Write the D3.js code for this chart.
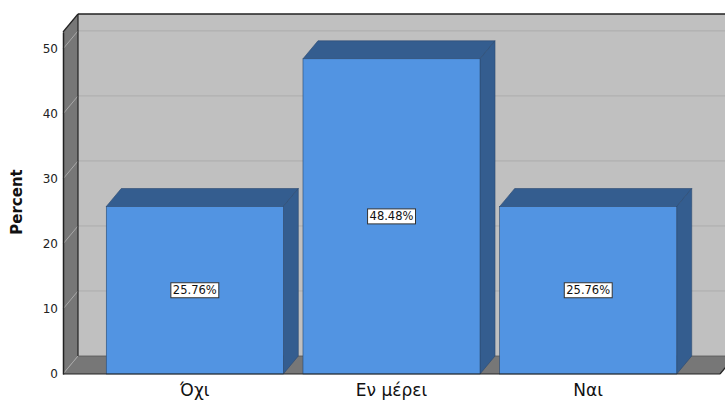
<!DOCTYPE html>
<html>
<head>
<meta charset="utf-8">
<script src="https://cdn.jsdelivr.net/npm/d3@7"></script>
<style>
  html, body { margin: 0; padding: 0; background: #ffffff; }
  svg { display: block; }
</style>
</head>
<body>
<div id="chart"></div>
<script>
// Response categories and their percentages
const categories = ["Όχι", "Εν μέρει", "Ναι"];
const percents = [25.76, 48.48, 25.76];
const yTicks = [0, 10, 20, 30, 40, 50];
const yTitle = "Percent";

const W = 725, H = 401;
// depth offset of the 3D frame
const DX = 15, DY = -18;

const svg = d3.select("#chart").append("svg")
  .attr("width", W).attr("height", H);

const x = d3.scaleBand()
  .domain(categories)
  .range([63, 720])
  .paddingInner(0.1)
  .paddingOuter(0.22);

const y = d3.scaleLinear()
  .domain([0, 52.6])
  .range([374, 32]);

const y0 = y(0), yTop = y.range()[1];
const x0 = x.range()[0], x1 = x.range()[1];

const wallLight = "#c0c0c0", wallDark = "#777777", edge = "#222222";

// back wall
svg.append("rect")
  .attr("x", x0 + DX).attr("y", yTop + DY)
  .attr("width", W - (x0 + DX) + 20).attr("height", y0 - yTop)
  .attr("fill", wallLight);

// left wall
svg.append("path")
  .attr("d", `M${x0},${y0} L${x0},${yTop} L${x0 + DX},${yTop + DY} L${x0 + DX},${y0 + DY} Z`)
  .attr("fill", wallDark);

// floor
svg.append("path")
  .attr("d", `M${x0},${y0} L${x0 + DX},${y0 + DY} L${x1 + DX},${y0 + DY} L${x1},${y0} Z`)
  .attr("fill", wallDark);

// gridlines across back wall and left wall
const grid = svg.append("g");
yTicks.forEach(t => {
  const yy = y(t);
  if (t > 0) {
    grid.append("line")
      .attr("x1", x0 + DX).attr("x2", W + 20)
      .attr("y1", yy + DY).attr("y2", yy + DY)
      .attr("stroke", "#acacac").attr("stroke-width", 1);
  }
  grid.append("line")
    .attr("x1", x0).attr("y1", yy)
    .attr("x2", x0 + DX).attr("y2", yy + DY)
    .attr("stroke", "#a8a8a8").attr("stroke-width", 1);
});

// frame edges
svg.append("line")
  .attr("x1", x0 + DX).attr("x2", W + 20)
  .attr("y1", yTop + DY).attr("y2", yTop + DY)
  .attr("stroke", edge).attr("stroke-width", 1.5);
svg.append("line")
  .attr("x1", x0 + DX).attr("x2", x0 + DX)
  .attr("y1", yTop + DY).attr("y2", y0 + DY)
  .attr("stroke", edge).attr("stroke-width", 1.2);
svg.append("line")
  .attr("x1", x0).attr("y1", yTop)
  .attr("x2", x0 + DX).attr("y2", yTop + DY)
  .attr("stroke", edge).attr("stroke-width", 1.2);
svg.append("line")
  .attr("x1", x0 + DX).attr("y1", y0 + DY)
  .attr("x2", x1 + DX).attr("y2", y0 + DY)
  .attr("stroke", "#555").attr("stroke-width", 0.8);
svg.append("line")
  .attr("x1", x1).attr("y1", y0)
  .attr("x2", x1 + DX).attr("y2", y0 + DY)
  .attr("stroke", edge).attr("stroke-width", 1.2);

// 3D bars
const front = "#5294e2", side = "#345d8f", barEdge = "#2b4a70";
const bars = svg.append("g").selectAll("g")
  .data(categories.map((c, i) => ({ c, v: percents[i] })))
  .join("g");

bars.append("path") // top face
  .attr("d", d => {
    const l = x(d.c), r = l + x.bandwidth(), t = y(d.v);
    return `M${l},${t} L${l + DX},${t + DY} L${r + DX},${t + DY} L${r},${t} Z`;
  })
  .attr("fill", side).attr("stroke", barEdge).attr("stroke-width", 0.6);

bars.append("path") // right face
  .attr("d", d => {
    const r = x(d.c) + x.bandwidth(), t = y(d.v);
    return `M${r},${t} L${r + DX},${t + DY} L${r + DX},${y0 + DY} L${r},${y0} Z`;
  })
  .attr("fill", side).attr("stroke", barEdge).attr("stroke-width", 0.6);

bars.append("rect") // front face
  .attr("x", d => x(d.c)).attr("y", d => y(d.v))
  .attr("width", x.bandwidth()).attr("height", d => y0 - y(d.v))
  .attr("fill", front).attr("stroke", barEdge).attr("stroke-width", 0.6);

// value labels in boxes
bars.each(function (d) {
  const g = d3.select(this);
  const cx = x(d.c) + x.bandwidth() / 2, cy = y(d.v / 2);
  const txt = g.append("text")
    .attr("x", cx).attr("y", cy)
    .attr("text-anchor", "middle").attr("dominant-baseline", "central")
    .attr("font-family", "DejaVu Sans, sans-serif").attr("font-size", 11.5)
    .attr("fill", "#111")
    .text(d.v.toFixed(2) + "%");
  const bb = txt.node().getBBox();
  g.insert("rect", "text")
    .attr("x", bb.x - 2).attr("y", cy - 7.5)
    .attr("width", bb.width + 4).attr("height", 15)
    .attr("fill", "#ffffff").attr("stroke", "#333").attr("stroke-width", 1);
});

// front baseline
svg.append("line")
  .attr("x1", x0).attr("x2", x1)
  .attr("y1", y0).attr("y2", y0)
  .attr("stroke", edge).attr("stroke-width", 1.2);

// y axis
const yAxis = svg.append("g")
  .attr("transform", `translate(${x0},0)`)
  .call(d3.axisLeft(y).tickValues(yTicks).tickSize(0).tickPadding(5).tickFormat(d3.format("d")));
yAxis.select(".domain").attr("stroke", edge).attr("stroke-width", 1.5);
yAxis.selectAll("text")
  .attr("font-family", "DejaVu Sans, sans-serif").attr("font-size", 12).attr("fill", "#222");

// x axis labels
const xAxis = svg.append("g")
  .attr("transform", `translate(0,${y0})`)
  .call(d3.axisBottom(x).tickSize(0).tickPadding(10));
xAxis.select(".domain").remove();
xAxis.selectAll("text")
  .attr("font-family", "DejaVu Sans, sans-serif").attr("font-size", 17).attr("fill", "#111");

// y axis title
svg.append("text")
  .attr("transform", `translate(22,202) rotate(-90)`)
  .attr("text-anchor", "middle")
  .attr("font-family", "DejaVu Sans, sans-serif").attr("font-size", 15).attr("font-weight", "bold")
  .attr("fill", "#111")
  .text(yTitle);
</script>
</body>
</html>
